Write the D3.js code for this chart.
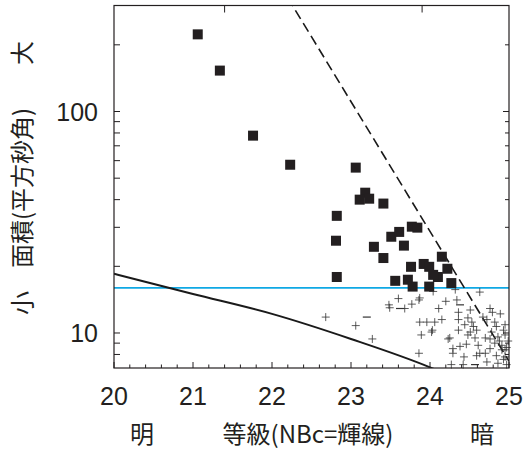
<!DOCTYPE html>
<html>
<head>
<meta charset="utf-8">
<script src="https://cdn.jsdelivr.net/npm/d3@7"></script>
<style>
  body { margin: 0; background: #fff; }
  svg { display: block; }
  .num { font-family: "Liberation Sans", Arial, sans-serif; font-size: 25px; fill: #231f20; }
  .cjk { font-family: "Noto Sans CJK JP", sans-serif; font-size: 24px; fill: #231f20; }
</style>
</head>
<body>
<div id="chart"></div>
<script>
// magnitude (NBc) vs. isophotal area (arcsec^2)
const xDomain = [20, 25];
const yDomain = [6.95, 301];
const xTickValues = [20, 21, 22, 23, 24, 25];
const yTickLabels = [10, 100];
const topTickValues = [21.4, 23.9];
const areaThreshold = 16;

// large emitters (filled squares)
const emitters = [
  [21.06, 223], [21.34, 153], [21.76, 77.8], [22.23, 57.5], [23.06, 55.8],
  [23.18, 43.0], [23.11, 40.0], [23.23, 40.4], [23.41, 38.4], [22.82, 33.8],
  [23.77, 30.2], [23.84, 29.9], [23.51, 27.2], [23.61, 28.6], [22.81, 26.1],
  [23.29, 24.5], [23.67, 24.8], [23.41, 21.8], [23.92, 20.5], [24.15, 22.1],
  [23.76, 19.9], [23.99, 19.9], [24.22, 19.5], [24.10, 17.9], [24.04, 18.3],
  [22.82, 17.9], [23.56, 17.2], [23.72, 17.4], [23.78, 16.2], [23.99, 16.2],
  [24.27, 16.8],
];

// small emitters (crosses)
const smallEmitters = [
  [22.68, 11.8], [23.06, 10.8], [23.27, 9.4], [23.49, 13.0], [23.60, 14.3],
  [23.48, 13.4], [23.68, 12.9], [23.77, 13.5], [23.86, 14.1], [23.87, 11.2],
  [23.96, 11.2], [24.06, 11.2], [24.15, 11.5], [24.11, 12.9], [24.20, 13.9],
  [24.34, 14.1], [24.63, 15.3], [24.36, 12.4], [24.51, 12.7], [24.76, 12.9],
  [24.79, 12.4], [24.89, 12.2], [24.36, 11.5], [24.48, 11.7], [24.53, 11.2],
  [24.67, 11.8], [24.72, 11.5], [24.82, 11.2], [24.95, 10.9], [24.03, 10.3],
  [23.89, 9.8], [24.02, 10.1], [24.36, 10.3], [24.51, 10.1], [24.59, 10.3],
  [24.78, 10.1], [24.93, 10.3], [24.25, 9.5], [24.48, 9.8], [24.57, 9.5],
  [24.70, 9.5], [24.76, 9.4], [24.86, 9.6], [24.95, 9.8], [24.82, 9.0],
  [24.61, 8.8], [24.38, 8.7], [24.29, 8.5], [24.46, 8.9], [24.76, 8.5],
  [24.91, 8.8], [23.86, 8.1], [24.43, 7.8], [24.59, 7.9], [24.70, 8.1],
  [24.84, 7.9], [24.95, 7.8], [24.27, 7.2], [24.42, 7.2], [24.72, 7.4],
  [24.86, 7.3], [24.97, 7.2], [23.87, 14.4], [24.32, 15.7], [24.04, 15.4],
  [24.84, 10.7], [24.55, 10.7], [24.44, 10.9], [24.95, 8.4], [24.63, 8.1],
  [24.29, 8.1], [24.23, 9.4], [24.91, 8.4], [24.97, 8.6], [24.93, 7.6],
  [24.88, 9.2], [24.99, 9.2],
];
const smallDashes = [[23.20, 11.8], [23.62, 12.9], [24.38, 13.4], [24.57, 7.2]];

// detection limit (solid) and surface-brightness limit (dashed)
const detectionLimit = [[20, 18.5], [21, 15.0], [22, 12.2], [23, 9.4], [24, 7.0], [24.3, 6.3]];
const surfaceLimit = [[22, 427], [25, 7.46]];

class AreaMagChart {
  constructor({ el }) {
    this.el = el;
    this.init();
  }

  init() {
    this.width = 523;
    this.height = 451;
    this.margin = { top: 5.5, right: 14, bottom: 83, left: 114 };

    this.x = d3.scaleLinear().domain(xDomain)
      .range([this.margin.left, this.width - this.margin.right]);
    this.y = d3.scaleLog().domain(yDomain)
      .range([this.height - this.margin.bottom, this.margin.top]);

    this.svg = d3.select(this.el).append("svg")
      .attr("width", this.width).attr("height", this.height);

    this.svg.append("clipPath").attr("id", "plot-clip")
      .append("rect")
      .attr("x", this.margin.left).attr("y", this.margin.top)
      .attr("width", this.x.range()[1] - this.x.range()[0])
      .attr("height", this.y.range()[0] - this.y.range()[1]);

    this.render();
  }

  render() {
    this.renderLines();
    this.renderPoints();
    this.renderAxes();
    this.renderLabels();
  }

  renderLines() {
    const [x0, x1] = this.x.range();
    const g = this.svg.append("g").attr("clip-path", "url(#plot-clip)");

    g.append("line")
      .attr("x1", x0).attr("x2", x1)
      .attr("y1", this.y(areaThreshold)).attr("y2", this.y(areaThreshold))
      .attr("stroke", "#0fa8e4").attr("stroke-width", 1.8);

    const line = d3.line().x((d) => this.x(d[0])).y((d) => this.y(d[1]));

    g.append("path")
      .attr("d", line.curve(d3.curveMonotoneX)(detectionLimit))
      .attr("fill", "none").attr("stroke", "#1a1a1a").attr("stroke-width", 2);

    g.append("path")
      .attr("d", line.curve(d3.curveLinear)(surfaceLimit))
      .attr("fill", "none").attr("stroke", "#1a1a1a").attr("stroke-width", 1.6)
      .attr("stroke-dasharray", "10,5");
  }

  renderPoints() {
    const s = 4;
    this.svg.append("g")
      .selectAll("path")
      .data(smallEmitters)
      .join("path")
      .attr("d", (d) => {
        const cx = this.x(d[0]), cy = this.y(d[1]);
        return `M${cx - s},${cy}H${cx + s}M${cx},${cy - s}V${cy + s}`;
      })
      .attr("stroke", "#333").attr("stroke-opacity", 0.8).attr("stroke-width", 1);

    this.svg.append("g")
      .selectAll("path")
      .data(smallDashes)
      .join("path")
      .attr("d", (d) => {
        const cx = this.x(d[0]), cy = this.y(d[1]);
        return `M${cx - s},${cy}H${cx + s}`;
      })
      .attr("stroke", "#333").attr("stroke-width", 1.2);

    const size = 10;
    this.svg.append("g")
      .selectAll("rect")
      .data(emitters)
      .join("rect")
      .attr("x", (d) => this.x(d[0]) - size / 2)
      .attr("y", (d) => this.y(d[1]) - size / 2)
      .attr("width", size).attr("height", size)
      .attr("fill", "#231f20");
  }

  renderAxes() {
    const [x0, x1] = this.x.range();
    const [y0, y1] = this.y.range();
    const g = this.svg.append("g").attr("stroke", "#231f20");

    g.append("rect")
      .attr("x", x0).attr("y", y1)
      .attr("width", x1 - x0).attr("height", y0 - y1)
      .attr("fill", "none").attr("stroke-width", 1.2);

    // bottom ticks: majors at 1 mag, minors every 0.2
    const minorX = d3.range(xDomain[0], xDomain[1] + 1e-6, 0.2);
    g.selectAll(".xtick")
      .data(minorX)
      .join("line")
      .attr("x1", (d) => this.x(d)).attr("x2", (d) => this.x(d))
      .attr("y1", y0)
      .attr("y2", (d) => y0 - (Math.abs(d - Math.round(d)) < 1e-6 ? 6 : 3.5));

    g.selectAll(".ttick")
      .data(topTickValues)
      .join("line")
      .attr("x1", (d) => this.x(d)).attr("x2", (d) => this.x(d))
      .attr("y1", y1).attr("y2", y1 + 7);

    // log ticks on both sides
    const yTicks = this.y.ticks().filter((d) => {
      const py = this.y(d);
      return py > y1 + 2 && py < y0 - 2;
    });
    g.selectAll(".ytick-l")
      .data(yTicks)
      .join("line")
      .attr("x1", x0).attr("x2", x0 + 6)
      .attr("y1", (d) => this.y(d)).attr("y2", (d) => this.y(d));
    g.selectAll(".ytick-r")
      .data(yTicks)
      .join("line")
      .attr("x1", x1)
      .attr("x2", (d) => x1 - (yTickLabels.includes(d) ? 6 : 4))
      .attr("y1", (d) => this.y(d)).attr("y2", (d) => this.y(d));

    this.svg.append("g")
      .selectAll("text")
      .data(xTickValues)
      .join("text")
      .attr("class", "num")
      .attr("x", (d) => this.x(d))
      .attr("y", y0 + 37)
      .attr("text-anchor", "middle")
      .text((d) => d);

    this.svg.append("g")
      .selectAll("text")
      .data(yTickLabels)
      .join("text")
      .attr("class", "num")
      .attr("x", x0 - 16)
      .attr("y", (d) => this.y(d) + 9)
      .attr("text-anchor", "end")
      .text((d) => d);
  }

  renderLabels() {
    const xLabels = [
      { text: "明", x: 142 },
      { text: "等級(NBc=輝線)", x: 308 },
      { text: "暗", x: 482 },
    ];
    this.svg.append("g")
      .selectAll("text")
      .data(xLabels)
      .join("text")
      .attr("class", "cjk")
      .attr("x", (d) => d.x).attr("y", 443)
      .attr("text-anchor", "middle")
      .text((d) => d.text);

    const yLabels = [
      { text: "大", y: 53 },
      { text: "面積(平方秒角)", y: 188 },
      { text: "小", y: 303 },
    ];
    this.svg.append("g")
      .selectAll("text")
      .data(yLabels)
      .join("text")
      .attr("class", "cjk")
      .attr("transform", (d) => `translate(20,${d.y}) rotate(-90)`)
      .attr("text-anchor", "middle")
      .attr("dominant-baseline", "central")
      .text((d) => d.text);
  }
}

new AreaMagChart({ el: document.getElementById("chart") });
</script>
</body>
</html>
